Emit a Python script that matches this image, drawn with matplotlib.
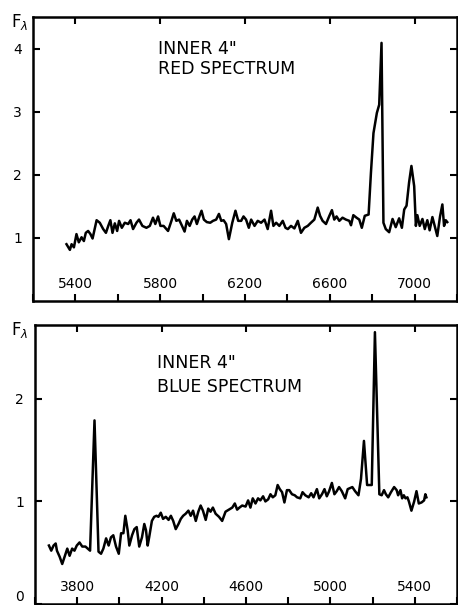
import numpy as np
import matplotlib
matplotlib.use('Agg')
import matplotlib.pyplot as plt
from matplotlib.ticker import MultipleLocator

# 红端光谱
red_wave = [5358, 5374, 5382, 5393, 5405, 5416, 5429, 5440, 5449, 5460, 5471, 5481,
            5500, 5515, 5531, 5544, 5555, 5565, 5575, 5586, 5597, 5606, 5619, 5633,
            5649, 5660, 5672, 5688, 5700, 5716, 5735, 5751, 5766, 5777, 5790, 5801,
            5816, 5837, 5853, 5864, 5876, 5889, 5903, 5915, 5926, 5939, 5951, 5962,
            5973, 5986, 5995, 6006, 6020, 6036, 6049, 6064, 6077, 6088, 6099, 6111,
            6124, 6140, 6155, 6168, 6182, 6193, 6205, 6218, 6229, 6245, 6260, 6276,
            6292, 6307, 6323, 6334, 6347, 6362, 6378, 6391, 6402, 6417, 6433, 6449,
            6464, 6480, 6496, 6511, 6527, 6543, 6554, 6566, 6582, 6598, 6610, 6621,
            6632, 6645, 6660, 6676, 6692, 6700, 6711, 6726, 6739, 6751, 6765, 6783,
            6794, 6806, 6822, 6833, 6844, 6853, 6864, 6880, 6896, 6911, 6927, 6940,
            6951, 6962, 6974, 6985, 6998, 7006, 7013, 7024, 7037, 7048, 7060, 7071,
            7084, 7096, 7107, 7120, 7131, 7139, 7147, 7154]
red_flux = [0.90, 0.81, 0.90, 0.85, 1.06, 0.93, 1.01, 0.95, 1.08, 1.11, 1.06, 0.99,
            1.28, 1.24, 1.14, 1.08, 1.19, 1.28, 1.08, 1.23, 1.11, 1.27, 1.16, 1.24,
            1.22, 1.28, 1.14, 1.24, 1.29, 1.19, 1.16, 1.19, 1.32, 1.22, 1.34, 1.19,
            1.19, 1.11, 1.27, 1.39, 1.27, 1.29, 1.19, 1.10, 1.27, 1.19, 1.29, 1.34,
            1.22, 1.35, 1.43, 1.29, 1.25, 1.24, 1.27, 1.29, 1.38, 1.27, 1.28, 1.22,
            0.98, 1.24, 1.43, 1.27, 1.27, 1.34, 1.29, 1.16, 1.29, 1.19, 1.27, 1.24,
            1.29, 1.14, 1.43, 1.19, 1.24, 1.19, 1.27, 1.16, 1.14, 1.19, 1.15, 1.27,
            1.08, 1.16, 1.19, 1.24, 1.29, 1.48, 1.35, 1.27, 1.22, 1.35, 1.44, 1.29,
            1.34, 1.27, 1.32, 1.29, 1.27, 1.20, 1.36, 1.32, 1.29, 1.16, 1.35, 1.37,
            2.03, 2.66, 2.98, 3.11, 4.09, 1.24, 1.14, 1.09, 1.30, 1.17, 1.31, 1.16,
            1.45, 1.51, 1.88, 2.14, 1.82, 1.19, 1.36, 1.19, 1.30, 1.14, 1.28, 1.12,
            1.33, 1.17, 1.03, 1.34, 1.53, 1.19, 1.28, 1.25]

# 蓝端光谱
blue_wave = [3666, 3677, 3688, 3698, 3704, 3717, 3729, 3740, 3753, 3764, 3776, 3787,
             3798, 3811, 3824, 3839, 3850, 3861, 3882, 3901, 3913, 3924, 3937, 3949,
             3960, 3971, 3984, 3997, 4008, 4019, 4028, 4039, 4047, 4060, 4071, 4082,
             4094, 4107, 4118, 4126, 4134, 4141, 4154, 4165, 4176, 4185, 4196, 4207,
             4220, 4233, 4244, 4255, 4267, 4280, 4291, 4302, 4314, 4327, 4338, 4349,
             4362, 4374, 4385, 4396, 4409, 4421, 4432, 4443, 4456, 4472, 4487, 4503,
             4519, 4535, 4547, 4558, 4569, 4582, 4598, 4610, 4621, 4632, 4645, 4657,
             4668, 4681, 4692, 4705, 4716, 4727, 4739, 4750, 4760, 4771, 4782, 4794,
             4805, 4818, 4831, 4842, 4857, 4868, 4881, 4897, 4909, 4920, 4936, 4947,
             4960, 4972, 4983, 4994, 5007, 5019, 5030, 5041, 5054, 5070, 5082, 5093,
             5104, 5117, 5133, 5145, 5159, 5174, 5188, 5196, 5211, 5232, 5243, 5254,
             5263, 5274, 5287, 5302, 5314, 5321, 5332, 5340, 5348, 5356, 5365, 5372,
             5384, 5397, 5408, 5419, 5432, 5444, 5450, 5455]
blue_flux = [0.57, 0.52, 0.57, 0.59, 0.52, 0.46, 0.39, 0.46, 0.54, 0.47, 0.54, 0.52,
             0.57, 0.60, 0.56, 0.56, 0.54, 0.52, 1.79, 0.51, 0.49, 0.54, 0.64, 0.57,
             0.65, 0.67, 0.56, 0.49, 0.69, 0.69, 0.86, 0.72, 0.57, 0.67, 0.73, 0.75,
             0.56, 0.65, 0.78, 0.72, 0.57, 0.65, 0.81, 0.85, 0.86, 0.85, 0.89, 0.83,
             0.85, 0.82, 0.86, 0.81, 0.73, 0.78, 0.83, 0.86, 0.88, 0.91, 0.86, 0.91,
             0.81, 0.90, 0.96, 0.91, 0.82, 0.93, 0.90, 0.94, 0.88, 0.85, 0.81, 0.90,
             0.92, 0.94, 0.98, 0.92, 0.94, 0.96, 0.95, 1.01, 0.94, 1.03, 0.98, 1.03,
             1.01, 1.05, 1.00, 1.02, 1.07, 1.04, 1.06, 1.16, 1.12, 1.09, 0.99, 1.11,
             1.11, 1.07, 1.06, 1.04, 1.03, 1.09, 1.06, 1.04, 1.08, 1.04, 1.12, 1.03,
             1.07, 1.12, 1.05, 1.10, 1.18, 1.07, 1.10, 1.14, 1.10, 1.03, 1.12, 1.13,
             1.14, 1.10, 1.06, 1.22, 1.59, 1.16, 1.16, 1.16, 2.65, 1.07, 1.06, 1.11,
             1.07, 1.04, 1.09, 1.14, 1.11, 1.06, 1.11, 1.03, 1.06, 1.03, 1.04, 1.00,
             0.91, 1.00, 1.10, 0.98, 0.99, 1.01, 1.07, 1.04]

red_xticks = [5400, 5800, 6200, 6600, 7000]
blue_xticks = [3800, 4200, 4600, 5000, 5400]
red_yticks = [1, 2, 3, 4]
blue_yticks = [0, 1, 2]


def setup_axes(ax, xlim, ylim, xticks, yticks):
    ax.set_xlim(*xlim)
    ax.set_ylim(*ylim)
    ax.set_xticks(xticks)
    ax.set_yticks(yticks)
    ax.xaxis.set_minor_locator(MultipleLocator(200))
    for s in ax.spines.values():
        s.set_linewidth(1.8)
    ax.tick_params(axis='both', which='major', direction='in', length=5, width=1.5,
                   labelsize=10, top=True, right=True)
    ax.tick_params(axis='x', which='minor', direction='in', length=5, width=1.5,
                   top=False, bottom=True)
    # x 轴刻度标签放在框内
    ax.tick_params(axis='x', which='major', pad=-17)
    ax.tick_params(axis='y', which='major', pad=8)


fig = plt.figure(figsize=(4.58, 6.05), dpi=100)
plt.rcParams['font.family'] = ['DejaVu Sans']

ax1 = fig.add_axes([33 / 458, 1 - 301 / 605, 424 / 458, 284 / 605])
ax1.plot(red_wave, red_flux, color='black', lw=1.8)
setup_axes(ax1, (5200, 7200), (0, 4.5), red_xticks, red_yticks)
ax1.text(5788, 4.0, 'INNER 4"', fontsize=12.5, va='center')
ax1.text(5788, 3.68, 'RED SPECTRUM', fontsize=12.5, va='center')
fig.text(20 / 458, 1 - 22 / 605, r'F$_\lambda$', fontsize=12, ha='center', va='center')

ax2 = fig.add_axes([35 / 458, 1 / 605, 422 / 458, 279 / 605])
ax2.plot(blue_wave, blue_flux, color='black', lw=1.8)
setup_axes(ax2, (3600, 5600), (0, 2.72), blue_xticks, blue_yticks)
ax2.text(4180, 2.35, 'INNER 4"', fontsize=12.5, va='center')
ax2.text(4180, 2.12, 'BLUE SPECTRUM', fontsize=12.5, va='center')
fig.text(20 / 458, 1 - 330 / 605, r'F$_\lambda$', fontsize=12, ha='center', va='center')
# "0" 贴着底边, 上移一点免得被裁掉
ax2.get_yticklabels()[0].set_va('bottom')

fig.savefig('out.png', dpi=100)
